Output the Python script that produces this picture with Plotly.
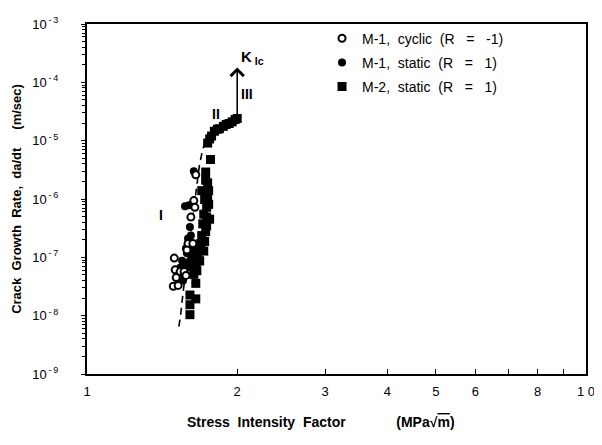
import numpy as np
import plotly.graph_objects as go

# ---- data ----
cyc_k = [1.652, 1.637, 1.645, 1.615, 1.594, 1.630, 1.586, 1.496, 1.502, 1.537, 1.565, 1.579, 1.489, 1.523, 1.509]
cyc_r = [2.6e-6, 9.4e-7, 7.2e-7, 4.9e-7, 1.73e-7, 1.73e-7, 1.33e-7, 9.7e-8, 6.1e-8, 5.7e-8, 5.7e-8, 4.9e-8, 3.2e-8, 3.3e-8, 4.5e-8]

static_k = [1.637, 1.572, 1.601, 1.608, 1.594, 1.586, 1.623, 1.608, 1.645, 1.572, 1.537, 1.523, 1.558, 1.601, 1.630,
            1.579, 1.551, 1.615, 1.565, 1.544]
static_r = [3.0e-6, 7.5e-7, 7.8e-7, 3.3e-7, 2.1e-7, 1.18e-7, 1.09e-7, 8.7e-8, 9.4e-8, 7.4e-8, 6.6e-8, 4.5e-8, 4.0e-8, 6.9e-8, 1.43e-7,
            1.43e-7, 8.7e-8, 2.36e-7, 5.5e-8, 5.9e-8]

m2_k = [1.745, 1.761, 1.777, 1.800, 1.825, 1.842, 1.876, 1.901, 1.927, 1.954, 1.980, 2.0,
        1.768, 1.729, 1.729, 1.698, 1.753, 1.721, 1.745, 1.737, 1.737, 1.714, 1.706, 1.737, 1.698,
        1.721, 1.682, 1.667, 1.652, 1.675, 1.630, 1.652, 1.652, 1.608, 1.652, 1.608, 1.608,
        1.714, 1.753, 1.761, 1.729, 1.690, 1.682, 1.660, 1.637, 1.745]
m2_r = [9.1e-6, 1.07e-5, 1.2e-5, 1.45e-5, 1.57e-5, 1.6e-5, 1.76e-5, 1.9e-5, 1.97e-5, 2.1e-5, 2.3e-5, 2.4e-5,
        4.75e-6, 2.9e-6, 2.1e-6, 1.39e-6, 1.39e-6, 9.8e-7, 9.8e-7, 7.2e-7, 4.9e-7, 5.5e-7, 3.75e-7, 3.47e-7, 2.36e-7,
        1.87e-7, 1.43e-7, 1.09e-7, 8.0e-8, 8.7e-8, 6.9e-8, 6.6e-8, 3.58e-8, 2.26e-8, 1.94e-8, 1.54e-8, 1.04e-8,
        1.28e-7, 8.1e-7, 4.5e-7, 2.75e-7, 1.73e-7, 8.7e-8, 5.9e-8, 5.1e-8, 1.89e-6]

dash_k = [1.528, 1.54, 1.558, 1.58, 1.605, 1.635, 1.66, 1.68, 1.70, 1.72]
dash_r = [6.5e-9, 1.0e-8, 2.5e-8, 6.5e-8, 1.8e-7, 6e-7, 1.8e-6, 3.8e-6, 6.2e-6, 9e-6]

kic_k = 2.0
kic_lo = 2.4e-5
kic_hi = 1.8e-4

x_tickvals = [1, 2, 3, 4, 5, 6, 7, 8, 9, 10]
x_ticktext = ["1", "2", "3", "4", "5", "6", "", "8", "", "1 0"]
y_exponents = [-9, -8, -7, -6, -5, -4, -3]

NB = "\u00a0"
legend_names = ["M-1," + NB * 2 + "cyclic" + NB * 2 + "(R" + NB * 3 + "=" + NB * 3 + "-1)",
                "M-1," + NB * 2 + "static" + NB * 2 + "(R" + NB * 3 + "=" + NB * 3 + "1)",
                "M-2," + NB * 2 + "static" + NB * 2 + "(R" + NB * 3 + "=" + NB * 3 + "1)"]

FONT = "Liberation Sans, Arial, Helvetica, sans-serif"

fig = go.Figure()

fig.add_trace(go.Scatter(x=dash_k, y=dash_r, mode="lines", showlegend=False,
                         line=dict(color="black", width=1.6, dash="7px,5px")))

fig.add_trace(go.Scatter(x=m2_k, y=m2_r, mode="markers", name=legend_names[2],
                         legendgroup="m2", legendrank=3,
                         marker=dict(symbol="square", size=9, color="black")))
fig.add_trace(go.Scatter(x=static_k, y=static_r, mode="markers", name=legend_names[1],
                         legendgroup="m1s", legendrank=2,
                         marker=dict(symbol="circle", size=8, color="black")))
fig.add_trace(go.Scatter(x=cyc_k, y=cyc_r, mode="markers", name=legend_names[0],
                         legendgroup="m1c", legendrank=1,
                         marker=dict(symbol="circle", size=7, color="white",
                                     line=dict(color="black", width=2))))

# K_Ic arrow
fig.add_annotation(x=np.log10(kic_k), y=np.log10(kic_hi), ax=np.log10(kic_k), ay=np.log10(kic_lo),
                   xref="x", yref="y", axref="x", ayref="y", text="", showarrow=True,
                   arrowhead=4, arrowsize=1.6, arrowwidth=1.6, arrowcolor="black")

ann_font = dict(family=FONT, size=14, color="black")
fig.add_annotation(x=np.log10(2.016), y=np.log10(2.7e-4), xref="x", yref="y", showarrow=False,
                   xanchor="left", text="<b>K<sub> Ic</sub></b>", font=dict(family=FONT, size=15, color="black"))
fig.add_annotation(x=np.log10(1.817), y=np.log10(2.9e-5), xref="x", yref="y", showarrow=False,
                   text="<b>II</b>", font=ann_font)
fig.add_annotation(x=np.log10(2.09), y=np.log10(6.2e-5), xref="x", yref="y", showarrow=False,
                   text="<b>III</b>", font=ann_font)
fig.add_annotation(x=np.log10(1.404), y=np.log10(5.3e-7), xref="x", yref="y", showarrow=False,
                   text="<b>I</b>", font=ann_font)

# x axis title
fig.add_annotation(x=0.468, y=-0.1365, xref="paper", yref="paper", showarrow=False,
                   xanchor="center", yanchor="middle",
                   text="<b>Stress" + NB * 2 + "Intensity" + NB * 2 + "Factor" + NB * 13
                        + "(MPa\u221a<span style='text-decoration:overline'>m</span>)</b>",
                   font=dict(family=FONT, size=14, color="black"))

minor_y = [k * 10.0 ** e for e in range(-9, -3) for k in range(2, 10)]

fig.update_xaxes(type="log", range=[0, 1], tickvals=x_tickvals, ticktext=x_ticktext,
                 ticks="inside", ticklen=5, tickwidth=1.2, tickcolor="black",
                 showline=True, linecolor="black", linewidth=2, mirror=True,
                 showgrid=False, zeroline=False, ticklabelstandoff=4, ticklabeloverflow="allow",
                 tickfont=dict(family=FONT, size=13, color="black"))
fig.update_yaxes(type="log", range=[-9, -3],
                 tickvals=[10.0 ** e for e in y_exponents],
                 ticktext=["10<sup>\u2009-\u2009" + str(-e) + "</sup>" for e in y_exponents],
                 ticks="outside", ticklen=4, tickwidth=1.2, tickcolor="black",
                 minor=dict(tickvals=minor_y, ticks="outside", ticklen=3, tickcolor="black", tickwidth=1),
                 showline=True, linecolor="black", linewidth=2, mirror=True,
                 showgrid=False, zeroline=False, ticklabelstandoff=20,
                 tickfont=dict(family=FONT, size=13, color="black"),
                 title=dict(text="<b>Crack" + NB * 2 + "Growth" + NB * 2 + "Rate," + NB * 2 + "da/dt"
                                 + NB * 5 + "(m/sec)</b>",
                            font=dict(family=FONT, size=13, color="black"), standoff=8))

# page body has an 8px default margin, so the figure is 8px smaller than the window
fig.update_layout(width=594, height=437, margin=dict(l=77, r=8, t=7, b=71),
                  paper_bgcolor="white", plot_bgcolor="white",
                  legend=dict(x=0.471, y=1.004, xanchor="left", yanchor="top",
                              traceorder="grouped",
                              tracegroupgap=3, bgcolor="rgba(0,0,0,0)",
                              font=dict(family=FONT, size=14, color="black")))

fig.write_html("out.html")
